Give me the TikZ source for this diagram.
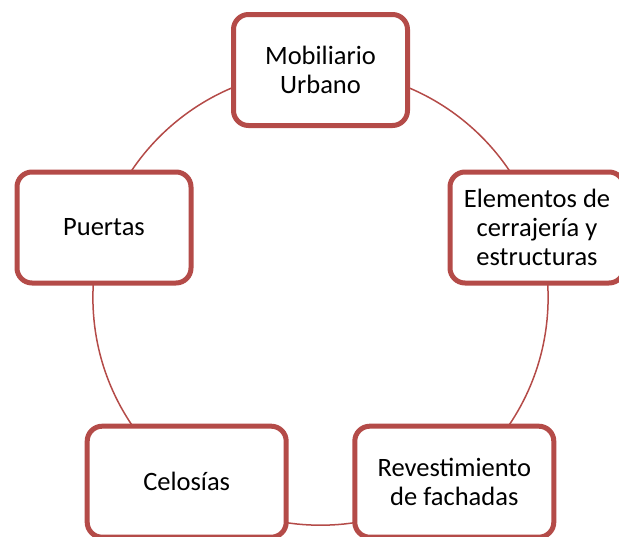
\documentclass[tikz,border=0pt]{standalone}
\usepackage{fontspec}
\setmainfont{Carlito}
\definecolor{bord}{RGB}{180,75,72}
\begin{document}
\begin{tikzpicture}[x=1pt,y=-1pt,
  box/.style={draw=bord, line width=5pt, fill=white, rounded corners=15pt,
    minimum width=174pt, minimum height=111pt, align=center, inner sep=0pt,
    font=\fontsize{26.5}{29}\selectfont},
  widebox/.style={box, minimum width=199pt},
  ring/.style={draw=bord, line width=1.5pt}]
\useasboundingbox (0,0) rectangle (619,536);
\clip (0,0) rectangle (619,536);
\coordinate (c) at (320.5,297.6);
\draw[ring] (c) circle (227.6pt);
\node[box] (mob) at (320.5,70) {Mobiliario\\Urbano};
\node[box] (ele) at (537,227.5) {Elementos de\\cerrajería y\\estructuras};
\node[widebox] (rev) at (454.3,481.7) {Revestimiento\\de fachadas};
\node[widebox] (cel) at (186.7,481.7) {Celosías};
\node[box] (pue) at (104,227.5) {Puertas};
\end{tikzpicture}
\end{document}
